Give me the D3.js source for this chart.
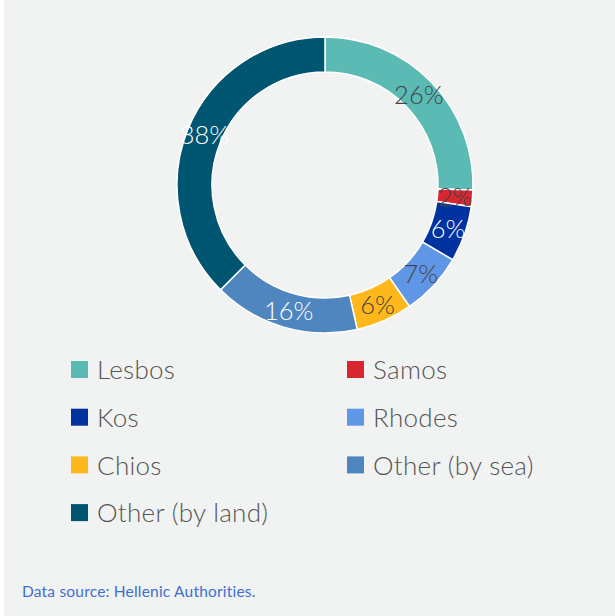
<!DOCTYPE html>
<head>
  <meta charset="UTF-8">
  <script src="https://d3js.org/d3.v7.min.js"></script>
</head>
<body style="margin:0;background:#fff">
  <svg id="donut" width="615" height="616"></svg>
</body>
<style>
  text { font-family: 'Lato', 'Open Sans', sans-serif; font-weight: 300; }
</style>
<script>
  // data (share of arrivals, %)
  const categories = ['Lesbos', 'Samos', 'Kos', 'Rhodes', 'Chios', 'Other (by sea)', 'Other (by land)'];
  const values = [25.6, 1.8, 6.1, 6.9, 6.2, 16.0, 37.6];
  const labels = ['26%', '2%', '6%', '7%', '6%', '16%', '38%'];
  const colors = ['#5cbab5', '#d7262f', '#0033a0', '#6096e6', '#ffb81c', '#4f86bf', '#005570'];
  const labelColors = ['#444', '#444', '#fff', '#444', '#444', '#fff', '#fff'];

  const svg = d3.select('#donut');

  // panel
  svg.append('rect')
    .attr('x', 4).attr('y', 0)
    .attr('width', 611).attr('height', 616)
    .attr('fill', '#f1f2f2');

  const cx = 325, cy = 185, outerR = 148, innerR = 113;

  const pie = d3.pie().sort(null).value(d => d)(values);
  const arc = d3.arc().innerRadius(innerR).outerRadius(outerR);

  const g = svg.append('g').attr('transform', `translate(${cx},${cy})`);

  g.selectAll('path')
    .data(pie)
    .join('path')
    .attr('d', arc)
    .attr('fill', (d, i) => colors[i])
    .attr('stroke', '#fff')
    .attr('stroke-width', 1.5);

  g.selectAll('text')
    .data(pie)
    .join('text')
    .attr('transform', d => `translate(${arc.centroid(d)})`)
    .attr('text-anchor', 'middle')
    .attr('dy', '0.36em')
    .attr('font-size', 25.5)
    .attr('fill', (d, i) => labelColors[i])
    .text((d, i) => labels[i]);

  // legend, two columns
  const legend = svg.append('g');
  const item = legend.selectAll('g')
    .data(categories)
    .join('g')
    .attr('transform', (d, i) => `translate(${i % 2 ? 347 : 71},${370 + Math.floor(i / 2) * 47.7})`);

  item.append('rect')
    .attr('x', 0).attr('y', -9)
    .attr('width', 17).attr('height', 17)
    .attr('fill', (d, i) => colors[i]);

  item.append('text')
    .attr('x', 26)
    .attr('dy', '0.36em')
    .attr('font-size', 26)
    .attr('letter-spacing', 0.3)
    .attr('fill', '#555')
    .text(d => d);

  svg.append('text')
    .attr('x', 22).attr('y', 597)
    .attr('font-size', 15.5)
    .attr('letter-spacing', 0.2)
    .attr('fill', '#3f6fcf')
    .style('font-weight', 400)
    .text('Data source: Hellenic Authorities.');
</script>
